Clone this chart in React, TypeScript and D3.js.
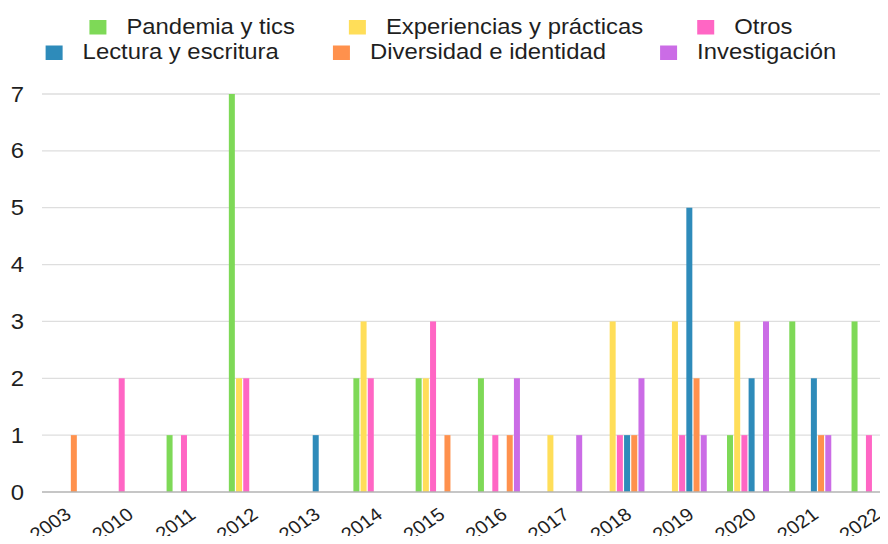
import React, { useRef, useEffect } from 'react';
import * as d3 from 'd3';

const years = ['2003', '2010', '2011', '2012', '2013', '2014', '2015', '2016', '2017', '2018', '2019', '2020', '2021', '2022'];
const seriesNames = ['Pandemia y tics', 'Experiencias y prácticas', 'Otros', 'Lectura y escritura', 'Diversidad e identidad', 'Investigación'];
const seriesColors = ['#7ed957', '#ffde59', '#ff66c4', '#2e8bba', '#ff914d', '#cb6ce6'];

// one array per series, same order as years
const pandemia = [0, 0, 1, 7, 0, 2, 2, 2, 0, 0, 0, 1, 3, 3];
const experiencias = [0, 0, 0, 2, 0, 3, 2, 0, 1, 3, 3, 3, 0, 0];
const otros = [0, 2, 1, 2, 0, 2, 3, 1, 0, 1, 1, 1, 0, 1];
const lectura = [0, 0, 0, 0, 1, 0, 0, 0, 0, 1, 5, 2, 2, 0];
const diversidad = [1, 0, 0, 0, 0, 0, 1, 1, 0, 1, 2, 0, 1, 0];
const investigacion = [0, 0, 0, 0, 0, 0, 0, 2, 1, 2, 1, 3, 1, 0];
const seriesValues = [pandemia, experiencias, otros, lectura, diversidad, investigacion];

const yTicks = [0, 1, 2, 3, 4, 5, 6, 7];
const legendRows = [[0, 1, 2], [3, 4, 5]];

const W = 888;
const H = 544;
const FONT = '"Liberation Sans", Arial, sans-serif';
const FS = 21.5;
const SX = 1.11; // picture is a bit wider than tall

const Chart = () => {
    const svgref = useRef<SVGSVGElement>(null);

    const drawSvg = () => {
        const svg = d3.select(svgref.current);
        svg.selectAll('*').remove();

        const gridLeft = 42;
        const x0 = d3.scaleBand().domain(years).range([31.9, 31.9 + years.length * 62.27]).padding(0);
        const x1 = d3.scaleBand<number>()
            .domain(d3.range(seriesNames.length))
            .range([0, x0.bandwidth()])
            .paddingInner(0.167)
            .paddingOuter(1.408);
        const y = d3.scaleLinear().domain([0, 7]).range([492, 94]);

        // grid
        svg.append('g')
            .selectAll('line')
            .data(yTicks.filter((d) => d > 0))
            .join('line')
            .attr('x1', gridLeft)
            .attr('x2', W)
            .attr('y1', (d) => y(d))
            .attr('y2', (d) => y(d))
            .attr('stroke', '#dedede')
            .attr('stroke-width', 1.3);

        // y labels
        svg.append('g')
            .selectAll('text')
            .data(yTicks)
            .join('text')
            .attr('transform', (d) => `translate(24,${y(d) + 7.6}) scale(${SX},1)`)
            .attr('text-anchor', 'end')
            .attr('font-family', FONT)
            .attr('font-size', FS)
            .attr('fill', '#1f1f1f')
            .text((d) => d);

        // bars
        const groups = svg.append('g')
            .selectAll('g')
            .data(years)
            .join('g')
            .attr('transform', (d) => `translate(${x0(d)},0)`);

        groups.selectAll('rect')
            .data((d, i) => seriesValues.map((vals, s) => ({ s, v: vals[i] })).filter((e) => e.v > 0))
            .join('rect')
            .attr('x', (d) => x1(d.s) as number)
            .attr('width', x1.bandwidth())
            .attr('y', (d) => y(d.v))
            .attr('height', (d) => y(0) - y(d.v))
            .attr('fill', (d) => seriesColors[d.s]);

        // baseline
        svg.append('line')
            .attr('x1', gridLeft)
            .attr('x2', W)
            .attr('y1', y(0))
            .attr('y2', y(0))
            .attr('stroke', '#b3b3b3')
            .attr('stroke-width', 1.5);

        // x labels, slanted
        svg.append('g')
            .selectAll('text')
            .data(years)
            .join('text')
            .attr('transform', (d) => `translate(${(x0(d) as number) + x0.bandwidth() / 2 + 9.5},517) scale(${SX},1) rotate(-37)`)
            .attr('text-anchor', 'end')
            .attr('font-family', FONT)
            .attr('font-size', 18.3)
            .attr('fill', '#1f1f1f')
            .text((d) => d);

        // legend, rows centred
        const legendCenter = 441;
        const rowTop = [20, 45.5];
        legendRows.forEach((row, r) => {
            const g = svg.append('g');
            const items = row.map((s) => {
                const t = g.append('text')
                    .attr('font-family', FONT)
                    .attr('font-size', FS)
                    .attr('fill', '#1f1f1f')
                    .text(seriesNames[s]);
                const w = (t.node() as SVGTextElement).getComputedTextLength() * SX;
                return { s, t, w };
            });
            const total = d3.sum(items, (d) => 17 + 20 + d.w) + 54 * (items.length - 1);
            let cx = legendCenter - total / 2;
            items.forEach((it) => {
                g.append('rect')
                    .attr('x', cx)
                    .attr('y', rowTop[r])
                    .attr('width', 17)
                    .attr('height', 14.5)
                    .attr('fill', seriesColors[it.s]);
                it.t.attr('transform', `translate(${cx + 37},${rowTop[r] + 13.8}) scale(${SX},1)`);
                cx += 37 + it.w + 54;
            });
        });
    };

    useEffect(() => {
        drawSvg();
    }, []);

    return <svg ref={svgref} width={W} height={H} style={{ display: 'block' }}></svg>;
};

export default function App() {
    return (
        <div style={{ margin: -8, width: W, height: H, overflow: 'hidden', background: '#fff' }}>
            <Chart />
        </div>
    );
}
